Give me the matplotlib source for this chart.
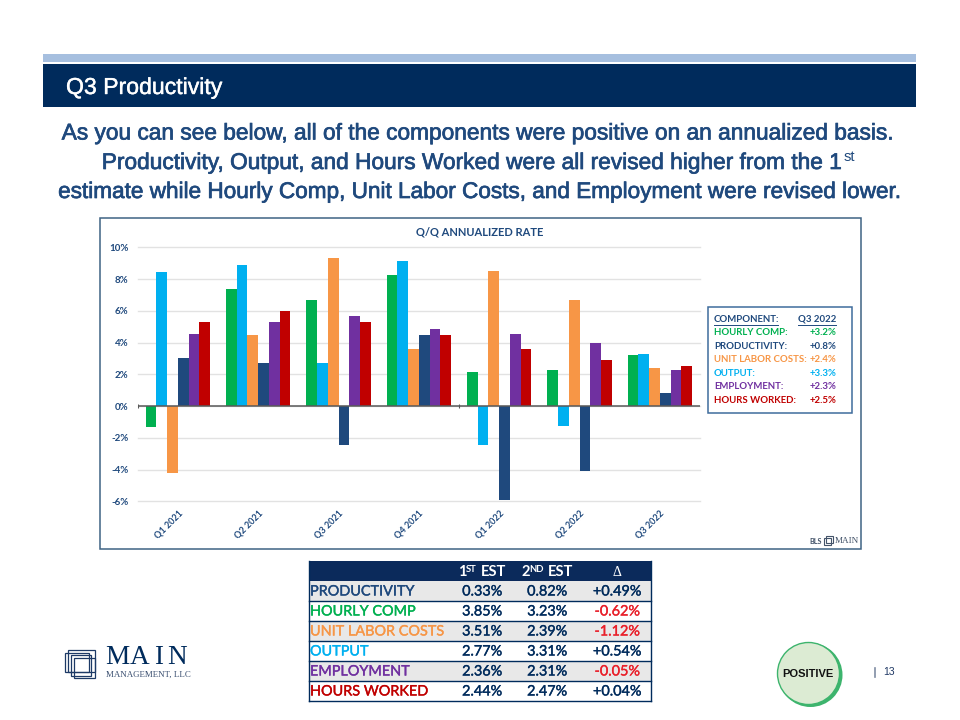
import numpy as np
import matplotlib
matplotlib.use("Agg")
import matplotlib.pyplot as plt
import matplotlib.patheffects as pe
from matplotlib.patches import Rectangle, Circle

quarters = ["Q1 2021", "Q2 2021", "Q3 2021", "Q4 2021", "Q1 2022", "Q2 2022", "Q3 2022"]
hourly_comp = [-1.3, 7.35, 6.65, 8.23, 2.14, 2.3, 3.2]
output = [8.45, 8.9, 2.7, 9.12, -2.48, -1.26, 3.3]
unit_labor = [-4.2, 4.5, 9.3, 3.6, 8.53, 6.66, 2.4]
productivity = [3.0, 2.7, -2.45, 4.45, -5.9, -4.07, 0.8]
employment = [4.55, 5.27, 5.7, 4.87, 4.54, 4.0, 2.3]
hours_worked = [5.27, 6.0, 5.27, 4.45, 3.6, 2.92, 2.5]
yticks = [-6, -4, -2, 0, 2, 4, 6, 8, 10]

GREEN = "#00B050"
SKY = "#00B0F0"
ORANGE = "#F79646"
NAVY = "#1F497D"
PURPLE = "#7030A0"
RED = "#C00000"
DARK = "#002B5C"

legend_names = ["HOURLY COMP:", "PRODUCTIVITY:", "UNIT LABOR COSTS:", "OUTPUT:", "EMPLOYMENT:", "HOURS WORKED:"]
legend_vals = ["+3.2%", "+0.8%", "+2.4%", "+3.3%", "+2.3%", "+2.5%"]
legend_cols = [GREEN, NAVY, ORANGE, SKY, PURPLE, RED]

table_names = ["PRODUCTIVITY", "HOURLY COMP", "UNIT LABOR COSTS", "OUTPUT", "EMPLOYMENT", "HOURS WORKED"]
table_cols = [NAVY, GREEN, ORANGE, SKY, PURPLE, RED]
first_est = ["0.33%", "3.85%", "3.51%", "2.77%", "2.36%", "2.44%"]
second_est = ["0.82%", "3.23%", "2.39%", "3.31%", "2.31%", "2.47%"]
delta = ["+0.49%", "-0.62%", "-1.12%", "+0.54%", "-0.05%", "+0.04%"]

W, H = 960, 720
fig = plt.figure(figsize=(9.6, 7.2), dpi=100, facecolor="white")

# slide layer, laid out in pixels
bg = fig.add_axes([0, 0, 1, 1])
bg.set_xlim(0, W)
bg.set_ylim(H, 0)
bg.axis("off")

bg.add_patch(Rectangle((43, 54), 873, 8, color="#A6BFDF", lw=0))
bg.add_patch(Rectangle((43, 64), 873, 43, color=DARK, lw=0))
bg.text(66, 87.5, "Q3 Productivity", color="white", fontsize=16.6, family="Liberation Sans", va="center",
        path_effects=[pe.withStroke(linewidth=0.3, foreground="white")])

# intro paragraph
heavy = [pe.withStroke(linewidth=0.5, foreground=NAVY)]
sub = dict(color=NAVY, family="Liberation Sans", va="center", path_effects=heavy)
bg.text(480, 133, "As you can see below, all of the components were positive on an annualized basis.", ha="center",
        fontsize=16.35, **sub)
bg.text(845, 162.5, "Productivity, Output, and Hours Worked were all revised higher from the 1", ha="right",
        fontsize=16.35, **sub)
bg.text(844, 157, "st", ha="left", color=NAVY, fontsize=10.5, family="Liberation Sans", va="center")
bg.text(481, 191.5, "estimate while Hourly Comp, Unit Labor Costs, and Employment were revised lower.", ha="center",
        fontsize=16.25, **sub)

# chart frame and key
bg.add_patch(Rectangle((99.5, 217.5), 761, 331, fc="white", ec="#3F6384", lw=1.1))
bg.add_patch(Rectangle((707.5, 306.5), 144, 106, fc="white", ec="#3F6C9C", lw=1.1))
key_font = dict(fontsize=6.9, family="Lato", fontweight="bold", va="center")
bg.text(714, 319, "COMPONENT:", color=NAVY, **key_font)
bg.text(836, 319, "Q3 2022", color=NAVY, ha="right", **key_font)
bg.plot([714, 778], [324.5, 324.5], color=NAVY, lw=0.7)
bg.plot([798, 836], [324.5, 324.5], color=NAVY, lw=0.7)
for i, (name, val, col) in enumerate(zip(legend_names, legend_vals, legend_cols)):
    y = 332.5 + i * 13.52
    bg.text(714, y, name, color=col, **key_font)
    bg.text(836, y, val, color=col, ha="right", **key_font)

# source mark in the chart corner
bg.text(809, 542, "BLS", color="#44546A", fontsize=5.2, family="Lato", fontweight="bold", va="center")
bg.add_patch(Rectangle((824, 538), 7, 7, fc="none", ec="#44546A", lw=0.8))
bg.add_patch(Rectangle((826, 536), 7, 7, fc="none", ec="#44546A", lw=0.8))
bg.text(835, 541, "MAIN", color="#44546A", fontsize=6.6, family="Liberation Serif", va="center")

# estimates table
tx0, tx1 = 308.5, 651
bg.add_patch(Rectangle((tx0, 561), tx1 - tx0, 20, color="#0B2A5B", lw=0))
head = dict(color="white", fontsize=10.6, family="Lato", fontweight="bold", va="center")
small = dict(color="white", fontsize=6.8, family="Lato", fontweight="bold", va="center")
bg.text(458, 572, "1", **head)
bg.text(465.5, 569.5, "ST", **small)
bg.text(480.5, 572, "EST", **head)
bg.text(522, 572, "2", **head)
bg.text(529.5, 569.5, "ND", **small)
bg.text(548, 572, "EST", **head)
bg.text(617, 572, "Δ", color="white", fontsize=10, family="Liberation Serif", ha="center", va="center")
row = dict(fontsize=10.4, family="Lato", va="center")
for i in range(6):
    y0 = 581 + i * 20
    if i % 2 == 0:
        bg.add_patch(Rectangle((tx0, y0), tx1 - tx0, 20, color="#E8E8E8", lw=0))
    bg.plot([tx0, tx1], [y0 + 20, y0 + 20], color=DARK, lw=1)
    yc = y0 + 10.5
    dcol = "#E8202A" if delta[i].startswith("-") else DARK
    cells = [(310, table_names[i], table_cols[i], "left"), (482, first_est[i], DARK, "center"),
             (547, second_est[i], DARK, "center"), (617, delta[i], dcol, "center")]
    for cx, txt, col, align in cells:
        bg.text(cx, yc, txt, color=col, ha=align, path_effects=[pe.withStroke(linewidth=0.25, foreground=col)], **row)
bg.plot([tx0, tx0], [561, 701], color=DARK, lw=1)
bg.plot([tx1, tx1], [561, 701], color=DARK, lw=1)

# company logo, nested frames and spaced capitals
for x, y, w, h in [(65, 653, 24, 19), (68, 650, 27, 22), (71, 655, 20, 21), (74, 658, 21, 20)]:
    bg.add_patch(Rectangle((x, y), w, h, fc="none", ec="#1D3A66", lw=0.9))
logo_letters = ["M", "A", "I", "N"]
logo_x = [117, 140, 158.5, 177]
for ch, lx in zip(logo_letters, logo_x):
    bg.text(lx, 658, ch, color=DARK, fontsize=19.6, family="Liberation Serif", ha="center", va="center")
bg.text(106, 675, "MANAGEMENT, LLC", color="#3A4F70", fontsize=6.4, family="Liberation Serif", va="center")

# status badge and page number
bg.add_patch(Circle((810.5, 675), 32, color="#3DB46D", lw=0))
bg.add_patch(Circle((808.5, 673.5), 31, fc="#DCEBD3", ec="#3DB46D", lw=1))
bg.text(808, 674, "POSITIVE", color="#111111", fontsize=8, family="Liberation Sans", fontweight="bold",
        ha="center", va="center")
bg.plot([875, 875], [668, 677], color="#7F8CA3", lw=1.2)
bg.text(883, 672, "13", color="#1F3864", fontsize=7.5, family="Liberation Sans", va="center")

# bar chart, placed so one percent is about 15.9 px
ax = fig.add_axes([137.7 / W, 1 - 501.3 / H, 562.3 / W, 254 / H])
ax.patch.set_alpha(0)
series = [(hourly_comp, GREEN), (output, SKY), (unit_labor, ORANGE),
          (productivity, NAVY), (employment, PURPLE), (hours_worked, RED)]
x = np.arange(len(quarters))
bw = 0.1332
for i, (vals, col) in enumerate(series):
    ax.bar(x + (i - 2.5) * bw, vals, bw, color=col, zorder=3)

ax.set_xlim(-0.5, 6.5)
ax.set_ylim(-6, 10)
ax.set_yticks(yticks)
ax.set_yticklabels(["%d%%" % v for v in yticks], fontsize=7, family="Lato", fontweight="bold", color=NAVY)
ax.set_xticks(x)
ax.set_xticklabels(quarters, rotation=45, ha="right", rotation_mode="anchor", fontsize=6.5, family="Lato",
                   fontweight="bold", color=NAVY)
ax.tick_params(axis="x", length=0, pad=5)
ax.tick_params(axis="y", length=0, pad=6.5)
ax.grid(axis="y", color="#E2E2E2", lw=1, zorder=0, clip_on=False)
ax.set_axisbelow(True)
for s in ax.spines.values():
    s.set_visible(False)
ax.axhline(0, color="#595959", lw=1.1, zorder=4)
ax.vlines([-0.5, 3.5], -0.1, 0.1, color="#595959", lw=0.8, zorder=4)
bg.text(479.5, 232, "Q/Q ANNUALIZED RATE", color=NAVY, fontsize=8, family="Lato", fontweight="bold",
        ha="center", va="center")

fig.savefig("out.png", dpi=100)
